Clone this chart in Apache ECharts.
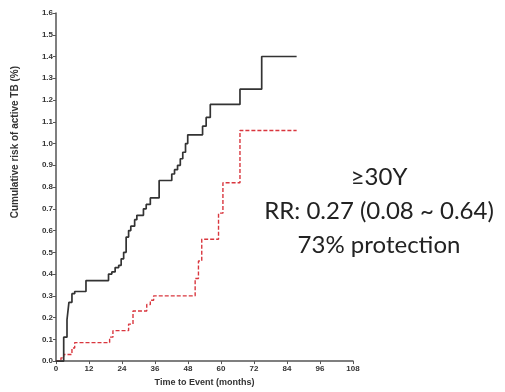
<!DOCTYPE html>
<html>
<head>
<meta charset="utf-8">
<script src="https://cdn.jsdelivr.net/npm/echarts@6/dist/echarts.min.js"></script>
<style>
  html, body { margin: 0; padding: 0; background: #fff; }
  #chart { width: 505px; height: 392px; }
</style>
</head>
<body>
<div id="chart"></div>
<script>
// Kaplan-Meier style cumulative risk (months, %)
const blackMonths = [0, 2.8, 4.0, 4.7, 5.8, 6.8, 10.9, 19.1, 20.3, 21.5, 22.8, 23.7, 24.6, 25.5, 26.4, 27.2, 28.6, 29.4, 31.8, 32.8, 34.3, 37.5, 42.1, 43.1, 44.2, 45.2, 46.1, 47.1, 47.9, 53.3, 54.6, 56.1, 66.9, 74.8, 87.5];
const blackRisk = [0, 0.11, 0.19, 0.27, 0.31, 0.32, 0.37, 0.40, 0.41, 0.43, 0.44, 0.47, 0.50, 0.57, 0.60, 0.62, 0.65, 0.67, 0.70, 0.72, 0.75, 0.83, 0.86, 0.88, 0.90, 0.93, 0.96, 1.00, 1.04, 1.08, 1.12, 1.18, 1.25, 1.40, 1.40];

const redMonths = [0, 1.8, 2.8, 5.8, 6.8, 19.5, 20.7, 26.4, 28.0, 33.0, 34.3, 35.5, 50.6, 51.8, 53.0, 59.1, 60.7, 66.9, 87.5];
const redRisk = [0, 0.015, 0.03, 0.06, 0.085, 0.11, 0.14, 0.17, 0.23, 0.26, 0.28, 0.30, 0.38, 0.46, 0.56, 0.68, 0.82, 1.06, 1.06];

const xTicks = [0, 12, 24, 36, 48, 60, 72, 84, 96, 108];
const yMax = 1.6;

const noteLines = ['≥30Y', 'RR: 0.27 (0.08 ~ 0.64)', '73% protection'];

const chart = echarts.init(document.getElementById('chart'));

const pairs = (xs, ys) => xs.map((x, i) => [x, ys[i]]);

const axisFont = {
  fontFamily: 'Liberation Sans, Arial, sans-serif',
  fontSize: 8,
  fontWeight: 'bold',
  color: '#333'
};

const option = {
  animation: false,
  grid: { left: 56, top: 13, width: 297, height: 352 },
  xAxis: {
    type: 'value',
    min: xTicks[0],
    max: xTicks[xTicks.length - 1],
    interval: 12,
    name: 'Time to Event (months)',
    nameLocation: 'middle',
    nameGap: 14,
    nameTextStyle: { fontFamily: 'Liberation Sans, Arial, sans-serif', fontSize: 9, fontWeight: 'bold', color: '#333' },
    axisLine: { lineStyle: { color: '#555', width: 1.5 } },
    axisTick: { length: 3, lineStyle: { color: '#555', width: 1 } },
    axisLabel: Object.assign({ margin: 4 }, axisFont),
    splitLine: { show: false }
  },
  yAxis: {
    type: 'value',
    min: 0,
    max: yMax,
    interval: 0.1,
    axisLine: { show: true, lineStyle: { color: '#555', width: 1.5 } },
    axisTick: { show: true, length: 3, lineStyle: { color: '#555', width: 1 } },
    axisLabel: Object.assign({ margin: 3, formatter: v => v.toFixed(1) }, axisFont),
    splitLine: { show: false }
  },
  graphic: [
    {
      type: 'text',
      left: 10,
      top: 66,
      rotation: Math.PI / 2,
      style: {
        text: 'Cumulative risk of active TB (%)',
        fontFamily: 'Liberation Sans, Arial, sans-serif',
        fontSize: 10,
        fontWeight: 'bold',
        fill: '#333'
      }
    },
    {
      type: 'text',
      x: 379,
      y: 160,
      style: {
        text: noteLines.join('\n'),
        fontFamily: 'Lato, sans-serif',
        fontSize: 24,
        lineHeight: 34,
        textAlign: 'center',
        fill: '#222'
      }
    }
  ],
  series: [
    {
      name: 'control',
      type: 'line',
      step: 'end',
      data: pairs(blackMonths, blackRisk),
      symbol: 'none',
      lineStyle: { color: '#333', width: 1.7 },
      z: 3
    },
    {
      name: 'vaccinated',
      type: 'line',
      step: 'end',
      data: pairs(redMonths, redRisk),
      symbol: 'none',
      lineStyle: { color: '#d9363e', width: 1.4, type: [4, 2] },
      z: 2
    }
  ]
};

chart.setOption(option);
</script>
</body>
</html>
